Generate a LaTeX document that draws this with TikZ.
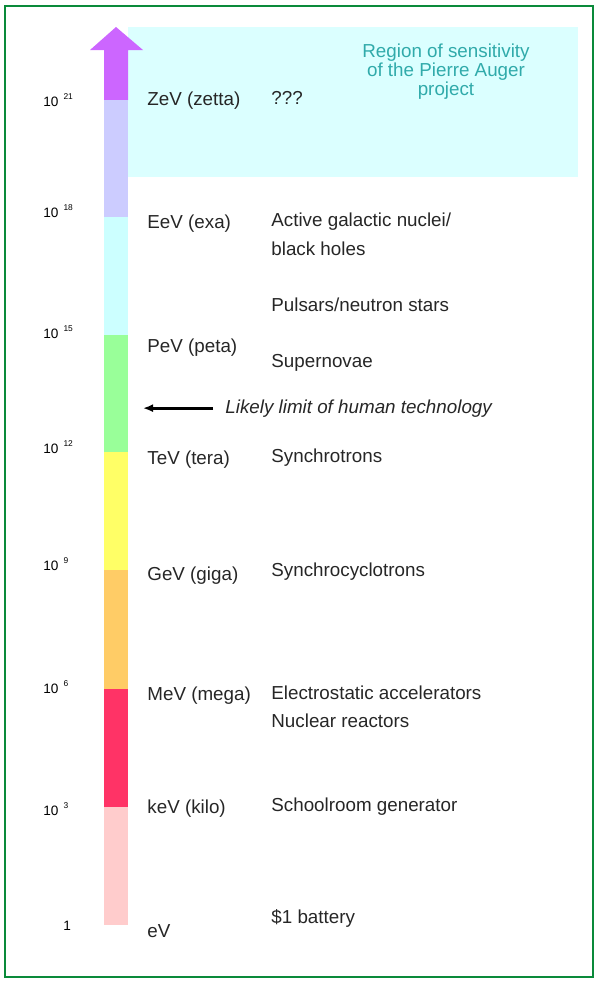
\documentclass[tikz,border=0pt]{standalone}
\usepackage{fontspec}
\setmainfont{Liberation Sans}
\usetikzlibrary{arrows.meta}

\definecolor{zettaband}{HTML}{CC66FF}
\definecolor{exaband}{HTML}{CCCCFF}
\definecolor{petaband}{HTML}{CCFFFF}
\definecolor{teraband}{HTML}{99FF99}
\definecolor{gigaband}{HTML}{FFFF66}
\definecolor{megaband}{HTML}{FFCC66}
\definecolor{kiloband}{HTML}{FF3366}
\definecolor{evband}{HTML}{FFCCCC}
\definecolor{augerfill}{HTML}{DBFFFF}
\definecolor{augertext}{HTML}{30AAAA}
\definecolor{framegreen}{HTML}{0A8A3A}

\newcommand{\tenpow}[1]{10\hspace{2.5pt}\raisebox{3.5pt}{\fontsize{4.2}{5}\selectfont #1}}

\begin{document}
\begin{tikzpicture}[
  x=0.5pt,
  y=-0.5pt,
  font=\fontsize{9.4}{11}\selectfont,
  frame/.style={
    draw=framegreen,
    line width=1.1pt
  },
  power/.style={
    anchor=base west,
    inner sep=0pt,
    font=\fontsize{6.8}{8}\selectfont
  },
  unit/.style={
    anchor=base west,
    inner sep=0pt,
    text=black!85
  },
  source/.style={
    anchor=base west,
    inner sep=0pt,
    text=black!85
  },
  region label/.style={
    anchor=north,
    align=center,
    inner sep=0pt,
    text=augertext,
    font=\fontsize{9.4}{9.5}\selectfont
  },
  limit arrow/.style={
    -{Latex[length=5pt,width=4pt]},
    draw=black,
    line width=1.4pt
  }
]

\useasboundingbox (0,0) rectangle (595,981);
\draw[frame] (5,6) rectangle (593,977);

% region of sensitivity
\fill[augerfill] (128,27) rectangle (578,177);
\node[region label] (auger-label) at (446,43)
  {Region of sensitivity\\of the Pierre Auger\\project};

% energy scale
\fill[zettaband] (90,50) -- (116,27) -- (143,50) -- (128,50) -- (128,100)
  -- (104,100) -- (104,50) -- cycle;
\fill[exaband] (104,100) rectangle (128,217);
\fill[petaband] (104,217) rectangle (128,335);
\fill[teraband] (104,335) rectangle (128,452);
\fill[gigaband] (104,452) rectangle (128,570);
\fill[megaband] (104,570) rectangle (128,689);
\fill[kiloband] (104,689) rectangle (128,807);
\fill[evband] (104,807) rectangle (128,925);

\node[power] (pow-21) at (43,106) {\tenpow{21}};
\node[power] (pow-18) at (43,217) {\tenpow{18}};
\node[power] (pow-15) at (43,338) {\tenpow{15}};
\node[power] (pow-12) at (43,453) {\tenpow{12}};
\node[power] (pow-9) at (43,570) {\tenpow{9}};
\node[power] (pow-6) at (43,693) {\tenpow{6}};
\node[power] (pow-3) at (43,815) {\tenpow{3}};
\node[power] (pow-0) at (63,930) {1};

\node[unit] (unit-zetta) at (147,105) {ZeV (zetta)};
\node[unit] (unit-exa) at (147,228) {EeV (exa)};
\node[unit] (unit-peta) at (147,352) {PeV (peta)};
\node[unit] (unit-tera) at (147,464) {TeV (tera)};
\node[unit] (unit-giga) at (147,580) {GeV (giga)};
\node[unit] (unit-mega) at (147,700) {MeV (mega)};
\node[unit] (unit-kilo) at (147,813) {keV (kilo)};
\node[unit] (unit-ev) at (147,937) {eV};

\node[source] (src-zetta) at (271,104) {???};
\node[source] (src-agn) at (271,226) {Active galactic nuclei/};
\node[source] (src-holes) at (271,255) {black holes};
\node[source] (src-pulsars) at (271,311) {Pulsars/neutron stars};
\node[source] (src-supernovae) at (271,367) {Supernovae};
\node[source] (src-synchrotrons) at (271,462) {Synchrotrons};
\node[source] (src-cyclotrons) at (271,576) {Synchrocyclotrons};
\node[source] (src-electrostatic) at (271,699) {Electrostatic accelerators};
\node[source] (src-reactors) at (271,727) {Nuclear reactors};
\node[source] (src-schoolroom) at (271,811) {Schoolroom generator};
\node[source] (src-battery) at (271,923) {\$1 battery};

% technology limit
\node[source,inner xsep=6pt,font=\fontsize{9.4}{11}\selectfont\itshape]
  (limit-text) at (213,413) {Likely limit of human technology};
\coordinate (limit-tip) at (143,410);
\draw[limit arrow] (limit-text.west) -- (limit-text.west -| limit-tip);

\end{tikzpicture}
\end{document}
